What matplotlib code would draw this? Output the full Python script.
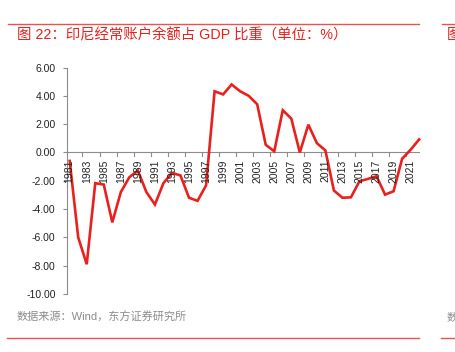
import matplotlib
matplotlib.use("Agg")
import matplotlib.pyplot as plt
from matplotlib.lines import Line2D

years = list(range(1981, 2023))
values = [-0.6, -6.0, -7.9, -2.17, -2.27, -4.94, -2.8, -1.75, -1.28, -2.8,
          -3.68, -2.17, -1.44, -1.63, -3.2, -3.42, -2.33, 4.32, 4.1, 4.8,
          4.32, 4.0, 3.4, 0.54, 0.08, 2.98, 2.39, 0.0, 1.96, 0.66,
          0.14, -2.69, -3.2, -3.17, -2.03, -1.87, -1.68, -2.98, -2.74, -0.45,
          0.19, 0.92]
xlabels = [str(y) for y in range(1981, 2023, 2)]
yticks = [6, 4, 2, 0, -2, -4, -6, -8, -10]
title = "图 22：印尼经常账户余额占 GDP 比重（单位：%）"
source = "数据来源：Wind，东方证券研究所"

plt.rcParams['font.family'] = ['Noto Sans CJK SC', 'DejaVu Sans']
mixed = ['Liberation Sans', 'Noto Sans CJK SC', 'DejaVu Sans']

W, H = 455, 352
fig = plt.figure(figsize=(W / 100, H / 100), dpi=100)

red = '#E8201E'
gray = '#8C8C8C'

ax = fig.add_axes([66.7 / W, 1 - 294 / H, (420 - 66.7) / W, (294 - 67.5) / H])
ax.plot(years, values, color=red, lw=1.9, solid_joinstyle='miter', clip_on=False)
ax.set_xlim(1980.65, 2022.1)
ax.set_ylim(-10, 6)

for s in ['top', 'right', 'bottom']:
    ax.spines[s].set_visible(False)
ax.spines['left'].set_color(gray)
ax.spines['left'].set_linewidth(0.8)
ax.axhline(0, color=gray, lw=0.8, zorder=1)

ax.set_yticks(yticks)
ax.set_yticklabels([f"{v:.2f}" for v in yticks], fontfamily='Liberation Sans', fontsize=7.5)
ax.tick_params(axis='y', direction='out', length=3, width=0.8, color=gray, pad=5,
               labelcolor='#222222')

# x: ticks at category boundaries every 2, labels at odd years, just below zero line
ax.set_xticks([])
for xb in [1980.5 + 2 * k for k in range(1, 21)]:
    ax.plot([xb, xb], [0, -0.22], color=gray, lw=0.8, clip_on=False, zorder=1)
for lab in xlabels:
    ax.text(int(lab), -0.5, lab, rotation=90, ha='center', va='top',
            fontfamily='Liberation Sans', fontsize=7.5, color='#222222')

# header / footer decorations
fig.add_artist(Line2D([8 / W, 419 / W], [1 - 23.5 / H, 1 - 23.5 / H], color='#E8534F', lw=1.0))
fig.add_artist(Line2D([442 / W, 455 / W], [1 - 23.5 / H, 1 - 23.5 / H], color='#E8534F', lw=1.0))
fig.add_artist(Line2D([7 / W, 419 / W], [1 - 338 / H, 1 - 338 / H], color='#E8534F', lw=1.0))
fig.add_artist(Line2D([441 / W, 455 / W], [1 - 338 / H, 1 - 338 / H], color='#E8534F', lw=1.0))

fig.text(17 / W, 1 - 35 / H, title, color=red, fontsize=10.4, ha='left', va='center',
         fontfamily=mixed)
fig.text(447 / W, 1 - 35 / H, "图", color=red, fontsize=10.4, ha='left', va='center')
fig.text(17 / W, 1 - 317 / H, source, color=gray, fontsize=8, ha='left', va='center',
         fontfamily=mixed)
fig.text(447 / W, 1 - 317 / H, "数", color=gray, fontsize=8, ha='left', va='center')

fig.savefig('out.png', dpi=100)
